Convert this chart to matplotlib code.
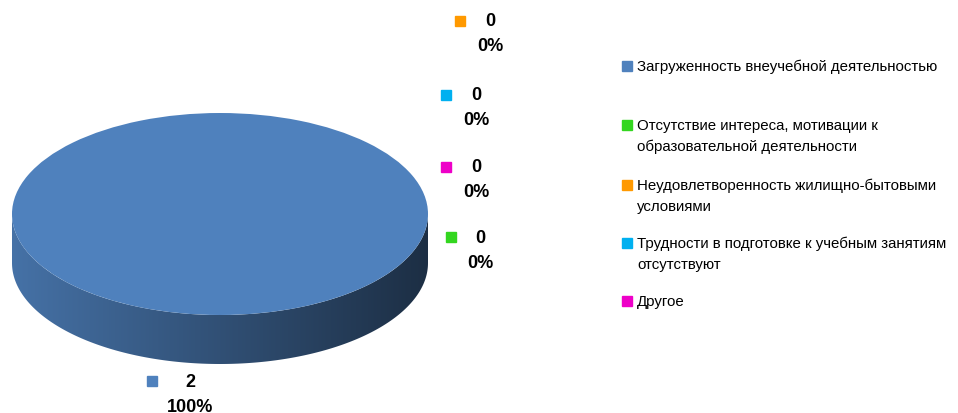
import matplotlib

matplotlib.use("Agg")
import matplotlib.pyplot as plt
import numpy as np
from matplotlib.colors import to_rgb
from matplotlib.patches import Polygon, Wedge
from matplotlib.transforms import Affine2D

categories = [
    "Загруженность внеучебной деятельностью",
    "Отсутствие интереса, мотивации к\nобразовательной деятельности",
    "Неудовлетворенность жилищно-бытовыми\nусловиями",
    "Трудности в подготовке к учебным занятиям\nотсутствуют",
    "Другое",
]
values = [2, 0, 0, 0, 0]
colors = ["#4f81bd", "#33d61f", "#ff9900", "#00b0f0", "#ee00c8"]

# canvas in pixels
W, H = 958, 414
CX, CY, RX, RY, DEPTH = 220, 215, 208, 101, 49

# data label anchors: (marker x, marker y, text x, value y)
label_pos = [
    (152, 382, 190, 383),
    (451.5, 237.5, 480, 239),
    (460.5, 21.5, 490, 22),
    (446.5, 95.5, 476, 96),
    (446.5, 167.5, 476, 168),
]
legend_y = [66.5, 126, 186, 244, 302]
LINE = 21

plt.rcParams["font.family"] = ["Liberation Sans", "DejaVu Sans"]

fig = plt.figure(figsize=(W / 100, H / 100), dpi=100)
ax = fig.add_axes([0, 0, 1, 1])

total = sum(values)
ellipse = Affine2D().scale(RX, RY).translate(CX, CY) + ax.transData

# side walls: only the front half (0..180 deg, y grows downward) is visible
start = 270.0
for val, col in zip(values, colors):
    span = 360.0 * val / total
    t1, t2 = start, start + span
    start = t2
    if span == 0:
        continue
    lo = max(t1, 360.0)
    hi = min(t2, 540.0)
    if hi <= lo:
        continue
    t = np.radians(np.linspace(lo, hi, 200))
    top = np.column_stack([CX + RX * np.cos(t), CY + RY * np.sin(t)])
    bot = top[::-1] + [0, DEPTH]
    side = Polygon(np.vstack([top, bot]), closed=True, facecolor="none", edgecolor="none")
    ax.add_patch(side)
    base = np.array(to_rgb(col))
    shade = np.linspace(0.88, 0.36, 256)[:, None] * base
    img = ax.imshow(shade[None, :, :], extent=(CX - RX, CX + RX, CY + RY + DEPTH, CY - RY),
                    aspect="auto", interpolation="bilinear", zorder=1)
    img.set_clip_path(side)

# top face
start = 270.0
for val, col in zip(values, colors):
    span = 360.0 * val / total
    if span > 0:
        w = Wedge((0, 0), 1.0, start, start + span, facecolor=col, edgecolor="none",
                  transform=ellipse, zorder=2)
        ax.add_patch(w)
    start += span

# data labels
for val, col, (mx, my, tx, ty) in zip(values, colors, label_pos):
    ax.plot(mx, my, marker="s", markersize=7.9, color=col, linestyle="none", zorder=3)
    ax.text(tx, ty, f"{val}", ha="center", va="center", fontsize=13, fontweight="bold")
    ax.text(tx, ty + 24.5, f"{val / total * 100:.0f}%", ha="center", va="center",
            fontsize=13, fontweight="bold")

# legend
for name, col, ly in zip(categories, colors, legend_y):
    ax.plot(627.5, ly, marker="s", markersize=6.5, color=col, linestyle="none")
    for i, line in enumerate(name.split("\n")):
        ax.text(637, ly + i * LINE, line, ha="left", va="center", fontsize=10.8)

ax.set_xlim(0, W)
ax.set_ylim(H, 0)
ax.axis("off")
fig.savefig("out.png", dpi=100)
